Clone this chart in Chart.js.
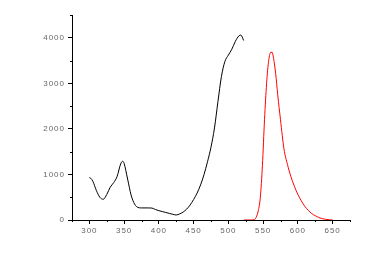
<!DOCTYPE html>
<html>
<head>
<meta charset="utf-8">
<script src="https://cdn.jsdelivr.net/npm/chart.js@4.4.1/dist/chart.umd.min.js"></script>
<style>
  html, body { margin: 0; padding: 0; background: #fff; }
  #wrap { width: 391px; height: 253px; }
</style>
</head>
<body>
<div id="wrap"><canvas id="myChart"></canvas></div>
<script>
// excitation (black) and emission (red) spectra
var exWavelength = [300, 302, 305, 310, 315, 320, 325, 330, 335, 340, 345, 348, 350, 355, 360, 365, 370,
    375, 380, 385, 390, 395, 400, 405, 410, 415, 420, 425, 430, 435, 440, 445, 450, 455, 460, 465, 470,
    475, 480, 485, 490, 495, 500, 505, 510, 515, 518, 522];
var exIntensity = [930, 916, 850, 650, 500, 455, 560, 720, 820, 960, 1230, 1290, 1240, 900, 550, 350, 275,
    265, 265, 265, 262, 230, 205, 185, 165, 145, 125, 110, 135, 175, 240, 330, 450, 590, 770, 1000, 1280,
    1600, 2020, 2600, 3150, 3480, 3620, 3750, 3920, 4040, 4060, 3940];

var emWavelength = [522, 530, 537, 540, 543, 546, 549, 552, 555, 558, 561, 563, 565, 568, 571, 575, 580,
    585, 590, 595, 600, 605, 610, 615, 620, 625, 630, 635, 640, 645, 650];
var emIntensity = [0, 0, 5, 60, 200, 500, 1200, 2200, 3000, 3500, 3680, 3680, 3550, 3220, 2750, 2200, 1560,
    1220, 950, 740, 560, 420, 300, 210, 140, 95, 55, 30, 15, 5, 0];

var xTickLabels = [300, 350, 400, 450, 500, 550, 600, 650];
var yTickLabels = [0, 1000, 2000, 3000, 4000];

function toPoints(xs, ys) {
    return xs.map(function (x, i) { return { x: x, y: ys[i] }; });
}

// short minor ticks, the long ones come from the scales themselves
var minorTicks = {
    id: 'minorTicks',
    beforeDraw: function (chart) {
        chart.ctx.letterSpacing = '1px';
    },
    afterDraw: function (chart) {
        var ctx = chart.ctx;
        var xs = chart.scales.x, ys = chart.scales.y;
        ctx.save();
        ctx.strokeStyle = '#000';
        ctx.lineWidth = 1;
        ctx.beginPath();
        xs.ticks.forEach(function (t) {
            if (xTickLabels.indexOf(t.value) < 0) {
                var px = Math.round(xs.getPixelForValue(t.value)) + 0.5;
                ctx.moveTo(px, xs.top);
                ctx.lineTo(px, xs.top + 2);
            }
        });
        ys.ticks.forEach(function (t) {
            if (yTickLabels.indexOf(t.value) < 0) {
                var py = Math.round(ys.getPixelForValue(t.value)) + 0.5;
                ctx.moveTo(ys.right, py);
                ctx.lineTo(ys.right - 2, py);
            }
        });
        ctx.stroke();
        ctx.restore();
    }
};

var ctx = document.getElementById('myChart').getContext('2d');

var myChart = new Chart(ctx, {
    type: 'scatter',
    data: {
        datasets: [{
            data: toPoints(exWavelength, exIntensity),
            borderColor: '#000000',
            borderWidth: 1,
            showLine: true,
            pointRadius: 0,
            cubicInterpolationMode: 'monotone'
        }, {
            data: toPoints(emWavelength, emIntensity),
            borderColor: '#ff0000',
            borderWidth: 1,
            showLine: true,
            pointRadius: 0,
            cubicInterpolationMode: 'monotone'
        }]
    },
    options: {
        responsive: true,
        maintainAspectRatio: false,
        animation: false,
        layout: {
            padding: { left: 0, top: 15, right: 41, bottom: 0 }
        },
        plugins: {
            legend: { display: false },
            tooltip: { enabled: false }
        },
        scales: {
            x: {
                type: 'linear',
                min: 275,
                max: 675,
                afterFit: function (s) { s.height = 33; },
                border: { color: '#000', width: 1 },
                grid: {
                    drawOnChartArea: false,
                    tickLength: 4,
                    tickColor: function (c) {
                        return xTickLabels.indexOf(c.tick.value) >= 0 ? '#000' : 'rgba(0,0,0,0)';
                    }
                },
                ticks: {
                    stepSize: 25,
                    autoSkip: false,
                    maxRotation: 0,
                    padding: 2,
                    color: '#666',
                    font: { family: 'Liberation Sans', size: 8 },
                    callback: function (v) { return xTickLabels.indexOf(v) >= 0 ? v : ''; }
                }
            },
            y: {
                min: 0,
                max: 4500,
                afterFit: function (s) { s.width = 72; },
                border: { color: '#000', width: 1 },
                grid: {
                    drawOnChartArea: false,
                    tickLength: 4,
                    tickColor: function (c) {
                        return yTickLabels.indexOf(c.tick.value) >= 0 ? '#000' : 'rgba(0,0,0,0)';
                    }
                },
                ticks: {
                    stepSize: 500,
                    autoSkip: false,
                    padding: 3,
                    color: '#666',
                    font: { family: 'Liberation Sans', size: 8 },
                    callback: function (v) { return yTickLabels.indexOf(v) >= 0 ? v : ''; }
                }
            }
        }
    },
    plugins: [minorTicks]
});
</script>
</body>
</html>
